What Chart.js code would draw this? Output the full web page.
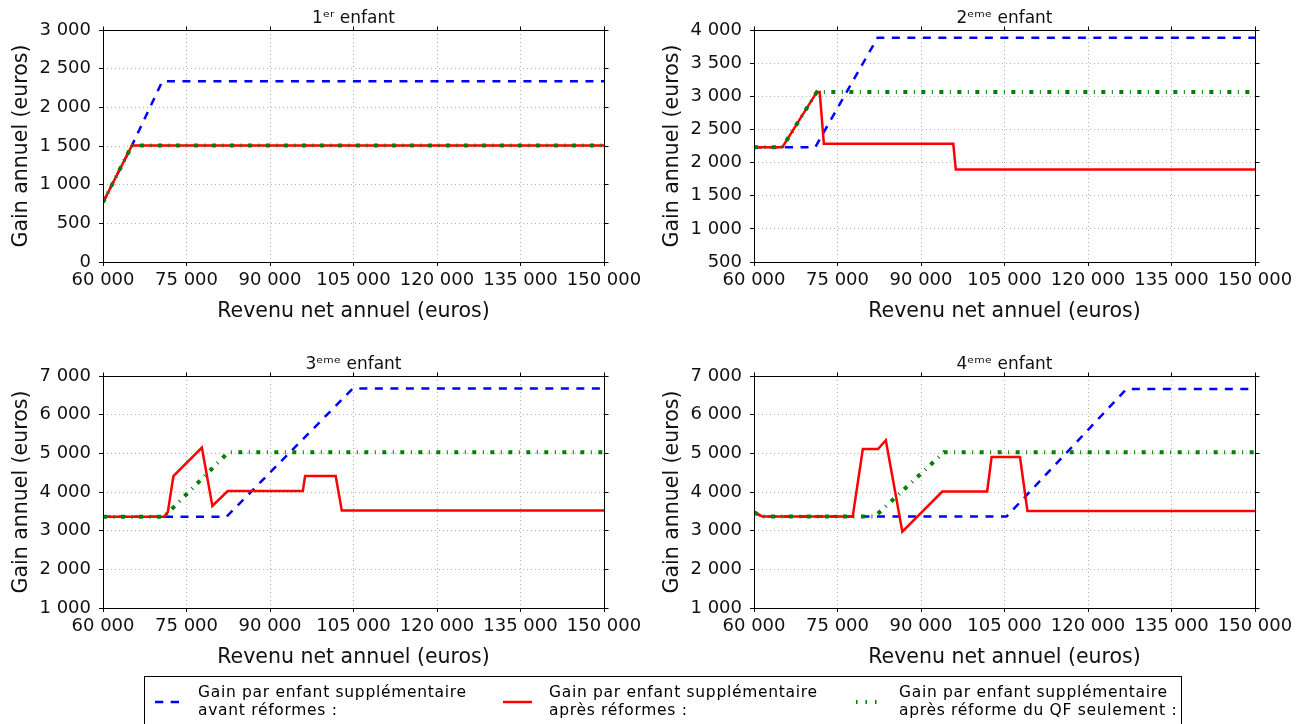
<!DOCTYPE html>
<html lang="fr">
<head>
  <meta charset="UTF-8" />
  <title>Gain par enfant supplémentaire</title>
  <style>
    html, body {
      margin: 0;
      padding: 0;
      width: 1310px;
      height: 724px;
      overflow: hidden;
      background: #fff;
      font-family: 'DejaVu Sans', sans-serif;
    }

    .plot {
      position: absolute;
    }

    #legend {
      position: absolute;
      left: 144px;
      top: 676px;
      width: 1038px;
      height: 80px;
      border: 1px solid #000;
      box-sizing: border-box;
    }

    .entry {
      position: absolute;
      top: 5.5px;
      font-size: 15.5px;
      line-height: 18.3px;
      letter-spacing: 0.7px;
      color: #000;
      white-space: nowrap;
    }

    .sample {
      position: absolute;
      top: 21px;
    }
  </style>
</head>
<body>
  <canvas id="c1" class="plot" width="651" height="346" style="left:0;top:0"></canvas>
  <canvas id="c2" class="plot" width="651" height="346" style="left:651px;top:0"></canvas>
  <canvas id="c3" class="plot" width="651" height="346" style="left:0;top:346px"></canvas>
  <canvas id="c4" class="plot" width="651" height="346" style="left:651px;top:346px"></canvas>

  <div id="legend">
    <svg class="sample" style="left:10px" width="26" height="8">
      <line x1="0" y1="4" x2="26" y2="4" stroke="#0000ff" stroke-width="2.5" stroke-dasharray="8.3 7.4" />
    </svg>
    <div class="entry" style="left:53px">Gain par enfant supplémentaire<br>avant réformes :</div>
    <svg class="sample" style="left:358px" width="30" height="8">
      <line x1="0" y1="4" x2="29" y2="4" stroke="#ff0000" stroke-width="2.5" />
    </svg>
    <div class="entry" style="left:404px">Gain par enfant supplémentaire<br>après réformes :</div>
    <svg class="sample" style="left:711px" width="26" height="8">
      <line x1="0" y1="4" x2="24" y2="4" stroke="#008000" stroke-width="4" stroke-dasharray="1.5 8 1.5 8" />
    </svg>
    <div class="entry" style="left:754px">Gain par enfant supplémentaire<br>après réforme du QF seulement :</div>
  </div>

  <script src="https://cdn.jsdelivr.net/npm/chart.js"></script>
  <script>
    const titres = ['1ᵉʳ enfant', '2ᵉᵐᵉ enfant', '3ᵉᵐᵉ enfant', '4ᵉᵐᵉ enfant'];
    const revenuTicks = [60000, 75000, 90000, 105000, 120000, 135000, 150000];
    const gainTicks1 = [0, 500, 1000, 1500, 2000, 2500, 3000];
    const gainTicks2 = [500, 1000, 1500, 2000, 2500, 3000, 3500, 4000];
    const gainTicks3 = [1000, 2000, 3000, 4000, 5000, 6000, 7000];

    // 1er enfant
    const revenuAvant1 = [60000, 65200, 70650, 150000];
    const gainAvant1 = [770, 1508, 2336, 2336];
    const revenuApres1 = [60000, 65200, 150000];
    const gainApres1 = [770, 1508, 1508];
    const revenuQF1 = [60000, 65200, 150000];
    const gainQF1 = [770, 1508, 1508];

    // 2eme enfant
    const revenuAvant2 = [60000, 71000, 82200, 150000];
    const gainAvant2 = [2232, 2232, 3884, 3884];
    const revenuApres2 = [60000, 65100, 71300, 71800, 72550, 95800, 96250, 150000];
    const gainApres2 = [2232, 2232, 3066, 3066, 2283, 2283, 1894, 1894];
    const revenuQF2 = [60000, 65100, 71300, 150000];
    const gainQF2 = [2232, 2232, 3066, 3066];

    // 3eme enfant
    const revenuAvant3 = [60000, 82200, 104900, 150000];
    const gainAvant3 = [3363, 3363, 6679, 6679];
    const revenuApres3 = [60000, 71000, 71650, 72650, 77760, 79650, 82400, 95900, 96300, 101800, 102900, 150000];
    const gainApres3 = [3363, 3363, 3484, 4413, 5151, 3641, 4023, 4023, 4413, 4413, 3519, 3519];
    const revenuQF3 = [60000, 71000, 82500, 150000];
    const gainQF3 = [3363, 3363, 5025, 5025];

    // 4eme enfant
    const revenuAvant4 = [60000, 61500, 105350, 126900, 150000];
    const gainAvant4 = [3476, 3364, 3364, 6662, 6662];
    const revenuApres4 = [60000, 61500, 77730, 79550, 82280, 83680, 86650, 93820, 101890, 102680, 107780, 109120, 150000];
    const gainApres4 = [3476, 3364, 3364, 5113, 5113, 5338, 2974, 4013, 4013, 4905, 4905, 3511, 3511];
    const revenuQF4 = [60000, 61500, 81700, 94100, 150000];
    const gainQF4 = [3476, 3364, 3364, 5026, 5026];

    Chart.defaults.font.family = "'DejaVu Sans', sans-serif";
    Chart.defaults.color = '#111';

    function pts(xs, ys) {
      return xs.map((x, i) => ({ x: x, y: ys[i] }));
    }

    function milliers(v) {
      return String(v).replace(/\B(?=(\d{3})+(?!\d))/g, ' ');
    }

    function align(p) {
      return Math.round(p - 0.5) + 0.5;
    }

    // box around the plot + outward ticks on top and right
    const cadre = {
      id: 'cadre',
      afterDraw(chart) {
        const a = chart.chartArea, ctx = chart.ctx;
        const xs = chart.scales.x, ys = chart.scales.y;
        const L = align(a.left), R = align(a.right), T = align(a.top), B = align(a.bottom);
        ctx.save();
        ctx.strokeStyle = '#000';
        ctx.lineWidth = 1;
        ctx.setLineDash([]);
        ctx.strokeRect(L, T, R - L, B - T);
        ctx.beginPath();
        xs.ticks.forEach(t => {
          const px = align(xs.getPixelForValue(t.value));
          ctx.moveTo(px, T);
          ctx.lineTo(px, T - 4);
        });
        ys.ticks.forEach(t => {
          const py = align(ys.getPixelForValue(t.value));
          ctx.moveTo(R, py);
          ctx.lineTo(R + 4, py);
        });
        ctx.stroke();
        ctx.restore();
      }
    };

    function graphique(id, titre, yTicks, avant, apres, qf) {
      const grid = {
        color: 'rgba(0,0,0,0.3)',
        lineWidth: 1,
        tickLength: 4,
        tickColor: '#000',
        tickWidth: 1
      };
      new Chart(document.getElementById(id), {
        type: 'line',
        data: {
          datasets: [
            {
              label: 'après réforme du QF seulement',
              data: pts(qf[0], qf[1]),
              borderColor: '#008000',
              borderWidth: 4,
              borderDash: [4, 6.5, 1, 6.5],
              borderCapStyle: 'butt'
            },
            {
              label: 'après réformes',
              data: pts(apres[0], apres[1]),
              borderColor: '#ff0000',
              borderWidth: 2.5
            },
            {
              label: 'avant réformes',
              data: pts(avant[0], avant[1]),
              borderColor: '#0000ff',
              borderWidth: 2.5,
              borderDash: [8, 7.5]
            }
          ]
        },
        options: {
          responsive: false,
          animation: false,
          elements: {
            point: { radius: 0 },
            line: { tension: 0, fill: false }
          },
          layout: { padding: { left: 0, right: 47, top: 0, bottom: 0 } },
          plugins: {
            legend: { display: false },
            tooltip: { enabled: false },
            title: {
              display: true,
              text: titre,
              fullSize: false,
              color: '#111',
              font: { size: 17, weight: 'normal', lineHeight: 1.2 },
              padding: { top: 8, bottom: 1.6 }
            }
          },
          scales: {
            x: {
              type: 'linear',
              min: revenuTicks[0],
              max: revenuTicks[revenuTicks.length - 1],
              afterBuildTicks: s => { s.ticks = revenuTicks.map(v => ({ value: v })); },
              afterFit: s => { s.height = 84; },
              ticks: { font: { size: 18 }, padding: 4, maxRotation: 0, callback: v => milliers(v) },
              grid: grid,
              border: { display: false, dash: [1, 3] },
              title: {
                display: true,
                text: 'Revenu net annuel (euros)',
                color: '#111',
                font: { size: 20.5, lineHeight: 1.2 },
                padding: { top: 0, bottom: 22.5 }
              }
            },
            y: {
              min: yTicks[0],
              max: yTicks[yTicks.length - 1],
              afterBuildTicks: s => { s.ticks = yTicks.map(v => ({ value: v })); },
              afterFit: s => { s.width = 103; },
              ticks: { font: { size: 18 }, padding: 8, callback: v => milliers(v) },
              grid: grid,
              border: { display: false, dash: [1, 3] },
              title: {
                display: true,
                text: 'Gain annuel (euros)',
                color: '#111',
                font: { size: 20.5, lineHeight: 1.2 },
                padding: { top: 9, bottom: 0 }
              }
            }
          }
        },
        plugins: [cadre]
      });
    }

    graphique('c1', titres[0], gainTicks1,
      [revenuAvant1, gainAvant1], [revenuApres1, gainApres1], [revenuQF1, gainQF1]);
    graphique('c2', titres[1], gainTicks2,
      [revenuAvant2, gainAvant2], [revenuApres2, gainApres2], [revenuQF2, gainQF2]);
    graphique('c3', titres[2], gainTicks3,
      [revenuAvant3, gainAvant3], [revenuApres3, gainApres3], [revenuQF3, gainQF3]);
    graphique('c4', titres[3], gainTicks3,
      [revenuAvant4, gainAvant4], [revenuApres4, gainApres4], [revenuQF4, gainQF4]);
  </script>
</body>
</html>
